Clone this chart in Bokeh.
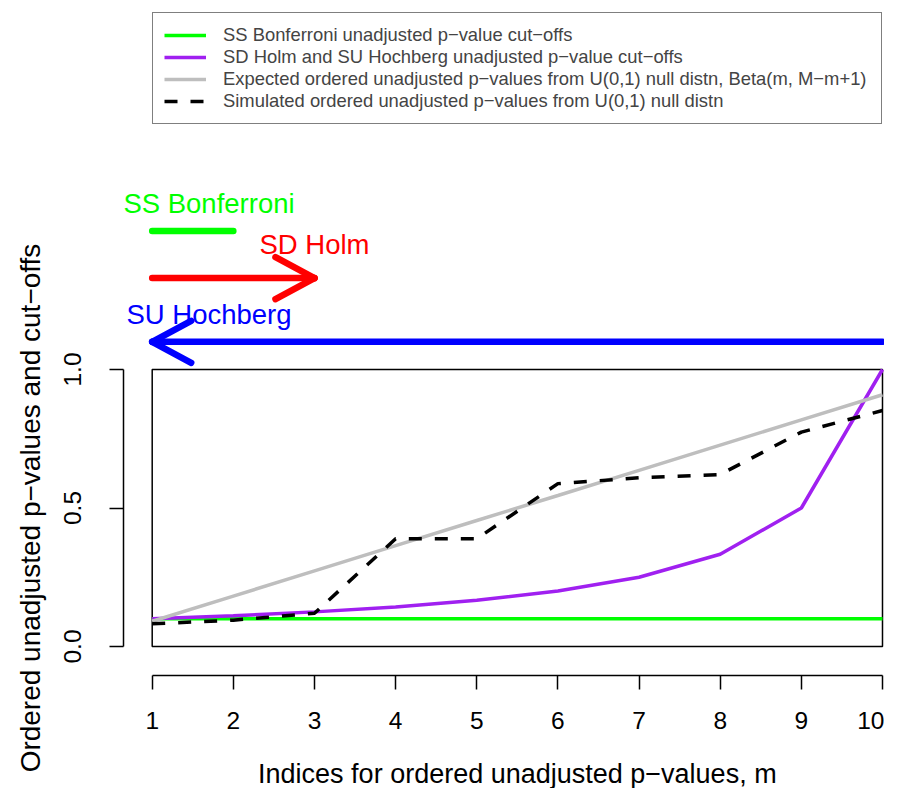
import math
from bokeh.plotting import figure
from bokeh.models import (Range1d, FixedTicker, NumeralTickFormatter, Label,
                          Legend, LegendItem, LinearAxis)
from bokeh.embed import file_html
from bokeh.resources import INLINE

# ---------------- data ----------------
m = [1, 2, 3, 4, 5, 6, 7, 8, 9, 10]
bonferroni = [0.100, 0.100, 0.100, 0.100, 0.100, 0.100, 0.100, 0.100, 0.100, 0.100]
holm_hochberg = [0.100, 0.111, 0.125, 0.143, 0.167, 0.200, 0.250, 0.333, 0.500, 1.000]
expected = [0.091, 0.182, 0.273, 0.364, 0.455, 0.545, 0.636, 0.727, 0.818, 0.909]
simulated = [0.082, 0.095, 0.120, 0.389, 0.389, 0.588, 0.609, 0.621, 0.774, 0.852]

x_ticks = [1, 2, 3, 4, 5, 6, 7, 8, 9, 10]
y_ticks = [0.0, 0.5, 1.0]

legend_labels = [
    "SS Bonferroni unadjusted p\u2212value cut\u2212offs",
    "SD Holm and SU Hochberg unadjusted p\u2212value cut\u2212offs",
    "Expected ordered unadjusted p\u2212values from U(0,1) null distn, Beta(m, M\u2212m+1)",
    "Simulated ordered unadjusted p\u2212values from U(0,1) null distn",
]
method_labels = ["SS Bonferroni", "SD Holm", "SU Hochberg"]
x_title = "Indices for ordered unadjusted p\u2212values, m"
y_title = "Ordered unadjusted p\u2212values and cut\u2212offs"

# ---------------- style / layout ----------------
FONT = "Liberation Sans"
GREEN, PURPLE, GRAY, RED, BLUE = "#00FF00", "#A020F0", "#BEBEBE", "#FF0000", "#0000FF"

W, H = 884, 788
PX_X = 81.144      # pixels per x unit
PX_Y = 277.0       # pixels per y unit
BOX_LEFT, BOX_BOTTOM = 151.7, 646.0   # pixel position of (1, 0)
x0 = 1 - BOX_LEFT / PX_X
x1 = x0 + W / PX_X
y1 = BOX_BOTTOM / PX_Y
y0 = y1 - H / PX_Y
AXIS_GAP = 28.8    # detached axes, one text line away from the box
TICK = 14

p = figure(title=None, width=W, height=H, min_border=0,
           x_range=Range1d(x0, x1), y_range=Range1d(y0, y1),
           x_axis_type=None, y_axis_type=None,
           output_backend="svg", toolbar_location=None,
           background_fill_color="white", border_fill_color="white",
           outline_line_color=None)

axis_style = dict(major_tick_out=TICK, major_tick_in=0, minor_tick_out=0, minor_tick_in=0,
                  axis_line_color="black", axis_line_width=1.5,
                  major_tick_line_color="black", major_tick_line_width=1.5,
                  minor_tick_line_color=None,
                  major_label_text_font=FONT, major_label_text_font_size="24.5px",
                  major_label_text_color="black")

x_axis_loc = min(y_ticks) - AXIS_GAP / PX_Y
y_axis_loc = min(x_ticks) - AXIS_GAP / PX_X

xa = LinearAxis(ticker=FixedTicker(ticks=x_ticks),
                bounds=(min(x_ticks), max(x_ticks)),
                fixed_location=x_axis_loc,
                major_label_standoff=23, **axis_style)
ya = LinearAxis(ticker=FixedTicker(ticks=y_ticks),
                bounds=(min(y_ticks), max(y_ticks)),
                fixed_location=y_axis_loc,
                formatter=NumeralTickFormatter(format="0.0"),
                major_label_orientation="vertical",
                major_label_standoff=28, **axis_style)
p.add_layout(xa, "below")
p.add_layout(ya, "left")

# plot box
p.quad(left=[m[0]], right=[m[-1]], bottom=[y_ticks[0]], top=[y_ticks[-1]],
       fill_color=None, line_color="black", line_width=1.5)

# series
r_bonf = p.line(m, bonferroni, line_color=GREEN, line_width=3.5)
r_holm = p.line(m, holm_hochberg, line_color=PURPLE, line_width=3.5)
r_exp = p.line(m, expected, line_color=GRAY, line_width=3.5)
r_sim = p.line(m, simulated, line_color="black", line_width=3.5, line_dash="13 13")

# method arrows above the plot box: shafts and open heads as segments
AW = 6.5
HEAD_ALONG, HEAD_ACROSS = 39.0, 21.0   # arrowhead arm extent, pixels
arrow_from = [1, 1, 10]
arrow_to = [2, 3, 1]
arrow_level = [1.5, 1.33, 1.1]
arrow_color = [GREEN, RED, BLUE]
arrow_head = [False, True, True]

p.segment(x0=arrow_from, y0=arrow_level, x1=arrow_to, y1=arrow_level,
          line_color=arrow_color, line_width=AW, line_cap="round")
hx0, hy0, hx1, hy1, hc = [], [], [], [], []
for xs, xe, yy, col, has in zip(arrow_from, arrow_to, arrow_level, arrow_color, arrow_head):
    if not has:
        continue
    back = -HEAD_ALONG / PX_X if xe > xs else HEAD_ALONG / PX_X
    for sgn in (1, -1):
        hx0.append(xe)
        hy0.append(yy)
        hx1.append(xe + back)
        hy1.append(yy + sgn * HEAD_ACROSS / PX_Y)
        hc.append(col)
p.segment(x0=hx0, y0=hy0, x1=hx1, y1=hy1, line_color=hc, line_width=AW, line_cap="round")

for txt, xx, yy, col in zip(method_labels, [1.7, 3.0, 1.7], [1.6, 1.45, 1.2], [GREEN, RED, BLUE]):
    p.add_layout(Label(x=xx, y=yy, text=txt, text_color=col, text_font=FONT,
                       text_font_size="27.5px", text_align="center", text_baseline="middle"))

# axis titles
p.add_layout(Label(x=(m[0] + m[-1]) / 2, y=-0.4585, text=x_title, text_font=FONT,
                   text_font_size="27px", text_align="center", text_baseline="middle",
                   text_color="black"))
p.add_layout(Label(x=-0.5, y=(y_ticks[0] + y_ticks[-1]) / 2, text=y_title, angle=math.pi / 2,
                   text_font=FONT, text_font_size="28px", text_align="center",
                   text_baseline="middle", text_color="black"))

legend = Legend(
    items=[LegendItem(label=l, renderers=[r]) for l, r in
           zip(legend_labels, [r_bonf, r_holm, r_exp, r_sim])],
    location=(152, 664), orientation="vertical", padding=11, spacing=0, margin=0,
    glyph_width=42, glyph_height=22, label_height=22, label_width=647, label_standoff=17,
    label_text_font=FONT, label_text_font_size="18.4px", label_text_baseline="middle",
    border_line_color="black", border_line_width=1.5, background_fill_color="white",
    background_fill_alpha=1.0)
p.add_layout(legend)

open("out.html", "w").write(file_html(p, INLINE))
